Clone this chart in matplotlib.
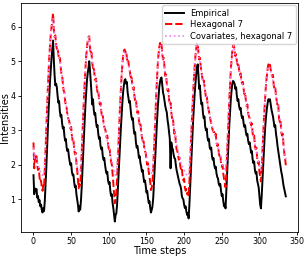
import numpy as np
import matplotlib
matplotlib.use('Agg')
import matplotlib.pyplot as plt

# Observed intensities, one value per time step (7 daily cycles of 48 steps)
empirical = [
    1.70, 1.15, 1.32, 1.25, 1.30, 1.05, 1.10, 0.92, 0.98, 0.80, 0.85, 0.70,
    0.62, 0.75, 0.66, 0.95, 1.40, 1.90, 2.45, 3.00, 3.55, 4.00, 4.45, 4.80,
    5.10, 5.35, 5.60, 5.05, 4.60, 4.30, 4.35, 4.25, 4.00, 3.80, 3.85, 3.55,
    3.40, 3.45, 3.20, 3.05, 3.10, 2.85, 2.70, 2.75, 2.50, 2.40, 2.45, 2.25,
    2.10, 2.00, 2.05, 1.80, 1.70, 1.72, 1.50, 1.35, 1.40, 1.15, 1.00, 0.85,
    0.65, 0.80, 0.70, 0.95, 1.35, 1.85, 2.35, 2.85, 3.30, 3.75, 4.10, 4.45,
    4.65, 4.80, 5.00, 4.75, 4.40, 4.10, 3.75, 3.90, 3.60, 3.45, 3.50, 3.25,
    3.10, 3.15, 2.90, 2.75, 2.80, 2.55, 2.45, 2.50, 2.25, 2.15, 2.20, 2.00,
    1.85, 1.75, 1.80, 1.55, 1.45, 1.50, 1.25, 1.10, 1.15, 0.90, 0.75, 0.55,
    0.36, 0.55, 0.60, 0.85, 1.30, 1.75, 2.20, 2.65, 3.05, 3.45, 3.80, 4.10,
    4.30, 4.45, 4.48, 4.35, 4.40, 4.10, 3.95, 3.80, 3.85, 3.60, 3.40, 3.30,
    3.35, 3.05, 2.90, 2.95, 2.65, 2.50, 2.55, 2.40, 2.20, 2.25, 2.05, 1.95,
    1.80, 1.85, 1.65, 1.50, 1.55, 1.40, 1.20, 1.25, 1.05, 0.90, 0.95, 0.75,
    0.62, 0.70, 0.80, 1.05, 1.50, 1.95, 2.40, 2.85, 3.25, 3.65, 3.95, 4.25,
    4.40, 4.50, 4.53, 4.30, 4.10, 4.00, 3.85, 3.70, 3.60, 3.52, 3.30, 3.15,
    2.95, 2.75, 1.90, 2.65, 2.50, 2.45, 2.30, 2.20, 2.18, 2.00, 1.85, 1.75,
    1.65, 1.55, 1.45, 1.40, 1.30, 1.10, 1.03, 1.00, 0.85, 0.75, 0.80, 0.65,
    0.55, 0.60, 0.45, 0.85, 1.35, 1.85, 2.35, 2.85, 3.30, 3.70, 4.05, 4.35,
    4.60, 4.80, 4.91, 4.60, 4.20, 4.30, 3.95, 3.75, 3.80, 3.50, 3.35, 3.40,
    3.10, 3.00, 3.05, 2.80, 2.70, 2.75, 2.50, 2.45, 2.50, 2.25, 2.15, 2.20,
    2.00, 1.90, 1.95, 1.75, 1.65, 1.60, 1.45, 1.40, 1.45, 1.25, 1.10, 1.15,
    0.95, 0.80, 0.85, 0.74, 1.20, 1.70, 2.20, 2.70, 3.15, 3.55, 3.90, 4.15,
    4.35, 4.43, 4.40, 4.35, 4.20, 4.25, 4.00, 3.85, 3.90, 3.70, 3.60, 3.65,
    3.45, 3.35, 3.40, 3.20, 3.10, 3.15, 2.95, 2.85, 2.90, 2.70, 2.60, 2.65,
    2.50, 2.35, 2.40, 2.15, 2.05, 2.10, 1.85, 1.75, 1.80, 1.55, 1.45, 1.35,
    1.10, 0.85, 0.74, 1.10, 1.55, 2.00, 2.45, 2.85, 3.20, 3.45, 3.65, 3.80,
    3.90, 3.85, 3.90, 3.75, 3.60, 3.50, 3.40, 3.25, 3.10, 3.15, 2.90, 2.75,
    2.55, 2.40, 2.25, 2.10, 1.95, 1.80, 1.70, 1.55, 1.40, 1.30, 1.20, 1.09,
]

# Model fit, hexagonal grid with 7 cells
hexagonal_7 = [
    2.65, 1.90, 2.25, 2.20, 2.25, 2.00, 1.85, 1.90, 1.65, 1.50, 1.55, 1.35,
    1.25, 1.40, 1.35, 1.85, 2.45, 3.05, 3.65, 4.20, 4.70, 5.15, 5.50, 5.80,
    6.00, 6.20, 6.39, 5.95, 5.70, 5.75, 5.50, 5.35, 5.40, 5.20, 5.05, 5.10,
    4.85, 4.65, 4.60, 4.35, 4.15, 4.10, 3.85, 3.70, 3.65, 3.45, 3.35, 3.30,
    3.20, 3.05, 3.10, 2.85, 2.70, 2.75, 2.45, 2.30, 2.35, 2.05, 1.85, 1.60,
    1.32, 1.45, 1.40, 1.80, 2.35, 2.90, 3.45, 3.95, 4.40, 4.80, 5.15, 5.40,
    5.60, 5.70, 5.72, 5.40, 5.20, 5.25, 4.95, 4.80, 4.85, 4.60, 4.45, 4.50,
    4.25, 4.10, 4.15, 3.90, 3.75, 3.80, 3.55, 3.40, 3.45, 3.20, 3.10, 3.05,
    2.95, 2.80, 2.85, 2.60, 2.45, 2.50, 2.25, 2.10, 2.00, 1.75, 1.45, 1.15,
    0.89, 1.05, 1.20, 1.60, 2.15, 2.70, 3.25, 3.75, 4.20, 4.60, 4.90, 5.15,
    5.30, 5.34, 5.25, 5.30, 5.10, 4.95, 5.00, 4.80, 4.70, 4.55, 4.60, 4.35,
    4.20, 4.25, 4.00, 3.85, 3.90, 3.65, 3.50, 3.55, 3.30, 3.15, 3.20, 2.95,
    2.80, 2.70, 2.75, 2.50, 2.40, 2.35, 2.15, 2.00, 2.05, 1.80, 1.65, 1.50,
    1.27, 1.35, 1.50, 1.90, 2.45, 3.00, 3.55, 4.05, 4.50, 4.90, 5.20, 5.40,
    5.53, 5.45, 5.50, 5.20, 5.05, 5.10, 4.80, 4.57, 4.62, 4.35, 4.15, 4.20,
    3.90, 3.75, 3.80, 3.52, 3.35, 3.40, 3.10, 2.90, 2.95, 2.65, 2.45, 2.40,
    2.27, 2.15, 2.20, 1.95, 1.85, 1.90, 1.65, 1.55, 1.60, 1.35, 1.25, 1.30,
    1.15, 1.20, 1.08, 1.50, 2.05, 2.60, 3.15, 3.65, 4.10, 4.50, 4.85, 5.15,
    5.35, 5.50, 5.53, 5.25, 5.05, 5.10, 4.85, 4.70, 4.55, 4.40, 4.45, 4.28,
    4.10, 3.95, 4.00, 3.80, 3.65, 3.55, 3.40, 3.30, 3.20, 3.10, 3.00, 2.95,
    2.95, 2.85, 2.90, 2.65, 2.55, 2.60, 2.35, 2.25, 2.30, 2.05, 1.95, 2.00,
    1.75, 1.60, 1.50, 1.35, 1.75, 2.30, 2.85, 3.40, 3.90, 4.35, 4.75, 5.05,
    5.30, 5.45, 5.48, 5.30, 5.15, 5.20, 5.00, 4.90, 4.95, 4.75, 4.60, 4.65,
    4.45, 4.35, 4.40, 4.20, 4.05, 4.10, 3.85, 3.70, 3.75, 3.50, 3.40, 3.35,
    3.25, 3.15, 3.20, 2.90, 2.80, 2.85, 2.55, 2.45, 2.50, 2.20, 2.05, 2.10,
    1.80, 1.65, 1.52, 1.90, 2.40, 2.90, 3.35, 3.75, 4.10, 4.40, 4.60, 4.80,
    4.91, 4.85, 4.90, 4.75, 4.65, 4.55, 4.60, 4.30, 4.20, 4.25, 4.00, 3.85,
    3.70, 3.75, 3.35, 3.25, 3.30, 2.95, 2.85, 2.90, 2.55, 2.35, 2.20, 1.99,
]

# Model fit with covariates, hexagonal grid with 7 cells
covariates_hex_7 = [
    2.50, 2.20, 2.30, 2.25, 2.20, 2.10, 2.00, 1.95, 1.85, 1.80, 1.75, 1.72,
    1.70, 1.72, 1.80, 2.10, 2.55, 3.10, 3.65, 4.15, 4.65, 5.10, 5.45, 5.75,
    5.95, 6.15, 6.25, 6.00, 5.75, 5.65, 5.50, 5.40, 5.30, 5.20, 5.10, 5.00,
    4.85, 4.70, 4.55, 4.40, 4.25, 4.10, 3.95, 3.80, 3.65, 3.50, 3.40, 3.30,
    3.20, 3.10, 3.00, 2.85, 2.75, 2.65, 2.50, 2.40, 2.25, 2.10, 1.95, 1.85,
    1.78, 1.80, 1.85, 2.10, 2.50, 3.00, 3.50, 3.95, 4.40, 4.80, 5.10, 5.35,
    5.55, 5.65, 5.70, 5.45, 5.25, 5.15, 5.00, 4.90, 4.80, 4.65, 4.55, 4.45,
    4.30, 4.20, 4.10, 3.95, 3.80, 3.70, 3.55, 3.45, 3.35, 3.20, 3.10, 3.00,
    2.90, 2.80, 2.70, 2.60, 2.50, 2.40, 2.30, 2.20, 2.10, 2.00, 1.90, 1.80,
    1.72, 1.70, 1.78, 2.00, 2.40, 2.85, 3.30, 3.80, 4.20, 4.60, 4.90, 5.10,
    5.25, 5.30, 5.25, 5.20, 5.05, 4.95, 4.90, 4.80, 4.70, 4.60, 4.50, 4.40,
    4.25, 4.15, 4.00, 3.90, 3.80, 3.65, 3.55, 3.45, 3.30, 3.20, 3.10, 3.00,
    2.85, 2.75, 2.65, 2.55, 2.45, 2.35, 2.25, 2.15, 2.05, 1.95, 1.85, 1.80,
    1.75, 1.78, 1.85, 2.15, 2.60, 3.10, 3.60, 4.05, 4.45, 4.85, 5.15, 5.35,
    5.45, 5.45, 5.40, 5.15, 5.00, 4.95, 4.75, 4.60, 4.55, 4.35, 4.20, 4.15,
    3.95, 3.80, 3.75, 3.55, 3.40, 3.35, 3.15, 3.00, 2.90, 2.75, 2.60, 2.50,
    2.40, 2.30, 2.25, 2.15, 2.05, 2.00, 1.95, 1.90, 1.85, 1.80, 1.75, 1.72,
    1.70, 1.72, 1.70, 1.95, 2.35, 2.80, 3.30, 3.80, 4.20, 4.60, 4.95, 5.20,
    5.35, 5.45, 5.45, 5.20, 5.05, 5.00, 4.85, 4.70, 4.60, 4.45, 4.40, 4.25,
    4.10, 4.00, 3.95, 3.80, 3.65, 3.55, 3.45, 3.35, 3.25, 3.15, 3.05, 2.95,
    2.90, 2.80, 2.75, 2.65, 2.55, 2.50, 2.40, 2.30, 2.25, 2.15, 2.05, 2.00,
    1.95, 1.90, 1.88, 1.90, 2.15, 2.55, 3.00, 3.50, 3.95, 4.35, 4.70, 5.00,
    5.25, 5.40, 5.45, 5.30, 5.15, 5.10, 5.00, 4.90, 4.85, 4.75, 4.65, 4.55,
    4.45, 4.35, 4.30, 4.20, 4.05, 3.95, 3.85, 3.70, 3.60, 3.50, 3.40, 3.30,
    3.20, 3.10, 3.05, 2.90, 2.80, 2.70, 2.60, 2.45, 2.40, 2.25, 2.15, 2.05,
    1.95, 1.88, 1.85, 2.10, 2.50, 2.95, 3.40, 3.80, 4.15, 4.45, 4.65, 4.80,
    4.85, 4.80, 4.80, 4.70, 4.60, 4.50, 4.45, 4.30, 4.20, 4.15, 4.00, 3.85,
    3.75, 3.65, 3.45, 3.30, 3.20, 3.05, 2.90, 2.80, 2.60, 2.45, 2.30, 2.15,
]

time_steps = np.arange(len(empirical))

fig = plt.figure(figsize=(3.07, 2.56), dpi=100)
ax = fig.add_axes([0.068, 0.094, 0.904, 0.895])

ax.plot(time_steps, empirical, color='black', linewidth=1.4, label='Empirical')
ax.plot(time_steps, hexagonal_7, color='red', linestyle='--', linewidth=1.4,
        label='Hexagonal 7')
ax.plot(time_steps, covariates_hex_7, color='violet', linestyle=':', linewidth=1.2,
        label='Covariates, hexagonal 7')

ax.set_xticks(range(0, 351, 50))
ax.set_xlabel('Time steps', fontsize=7.0, labelpad=0)
ax.set_ylabel('Intensities', fontsize=7.0, labelpad=0.5)
ax.tick_params(labelsize=5.7, length=2.5, width=0.6, pad=1.5)
for sp in ax.spines.values():
    sp.set_linewidth(0.6)

ax.legend(loc='upper right', fontsize=6, handlelength=2.2, borderaxespad=0.3,
          labelspacing=0.3)

fig.savefig('out.png', dpi=100)
plt.close(fig)
